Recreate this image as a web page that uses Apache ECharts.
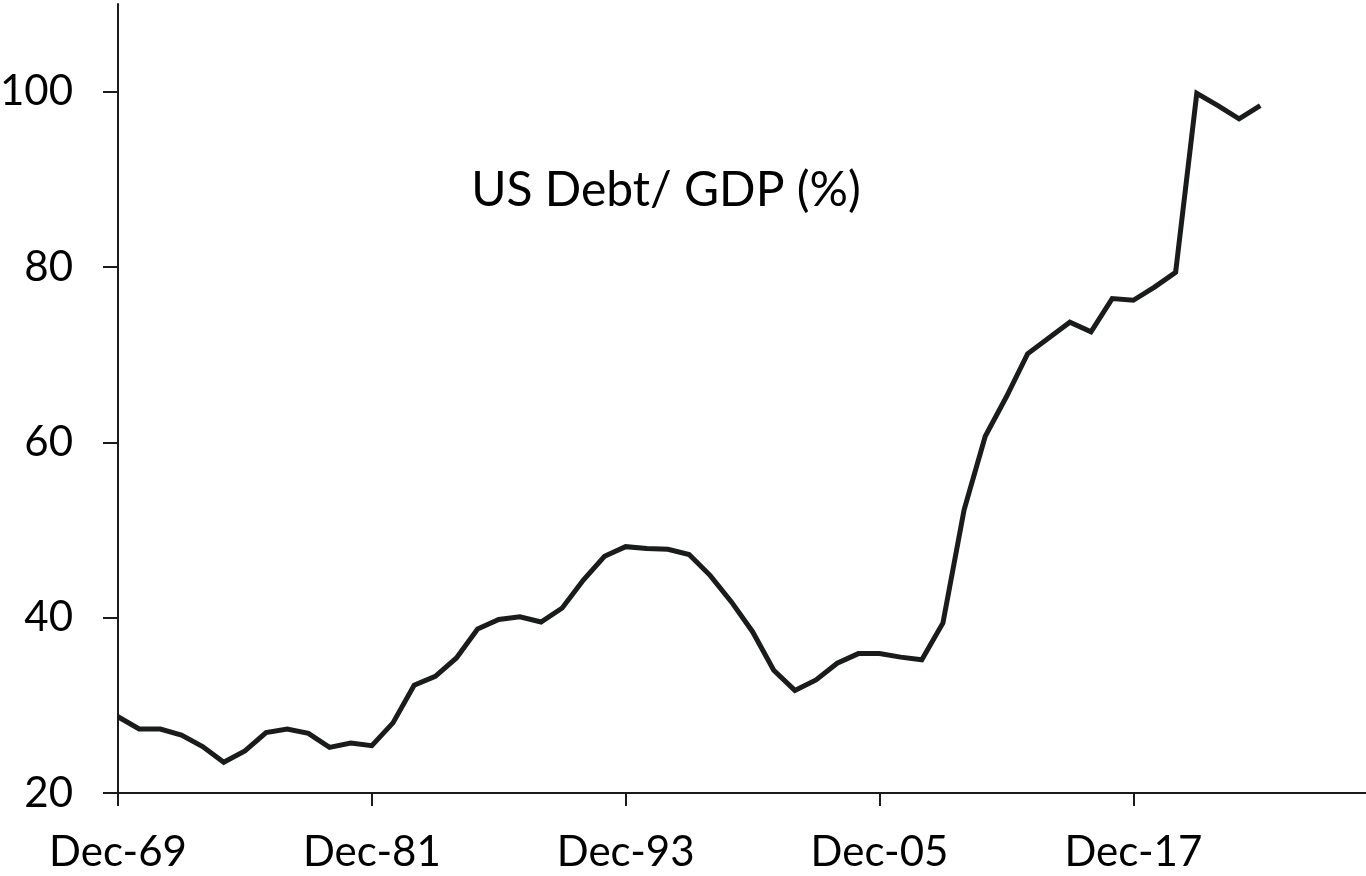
<!DOCTYPE html>
<html lang="en">

<head>
    <meta charset="UTF-8">
    <title>US Debt/ GDP</title>
    <script src="https://cdn.jsdelivr.net/npm/echarts@6/dist/echarts.min.js"></script>
    <style>
        html, body {
            margin: 0;
            padding: 0;
            background: #fff;
        }
    </style>
</head>

<body>
    <div id="myCharts" style="width: 1366px;height:876px;"></div>

    <script type="text/javascript">
        // years on the x axis (Dec of each year), axis runs past the data to 2028
        var firstYear = 1969
        var lastYear = 2028
        var years = []
        for (let y = firstYear; y <= lastYear; y++) {
            years.push('Dec-' + String(y).slice(2))
        }

        // US debt / GDP (%), Dec-69 .. Dec-23
        var debtGdp = [
            28.7, 27.3, 27.3, 26.6, 25.3, 23.5, 24.8, 26.9, 27.3, 26.8,
            25.2, 25.7, 25.4, 28.0, 32.3, 33.3, 35.4, 38.7, 39.8, 40.1,
            39.5, 41.1, 44.3, 47.0, 48.1, 47.9, 47.8, 47.2, 44.8, 41.8,
            38.4, 34.0, 31.7, 32.9, 34.8, 35.9, 35.9, 35.5, 35.2, 39.4,
            52.3, 60.7, 65.2, 70.1, 71.9, 73.7, 72.6, 76.4, 76.2, 77.7,
            79.4, 99.8, 98.4, 96.9, 98.4
        ]

        var yTicks = [20, 40, 60, 80, 100]
        var chartTitle = 'US Debt/ GDP (%)'

        var font = 'Lato'
        var ink = '#1a1c1c'

        var myChart = echarts.init(document.getElementById('myCharts'))

        var option = {
            animation: false,
            backgroundColor: '#fff',
            textStyle: {
                fontFamily: font,
            },
            grid: {
                left: 118,
                right: 0,
                top: 4,
                bottom: 83,
                containLabel: false,
                outerBoundsMode: 'none',
            },
            graphic: [
                {
                    type: 'text',
                    x: 666,
                    y: 167,
                    style: {
                        text: chartTitle,
                        font: '48px Lato',
                        fill: '#000',
                        align: 'center',
                        verticalAlign: 'top',
                    },
                },
            ],
            xAxis: {
                type: 'category',
                data: years,
                boundaryGap: false,
                axisLine: {
                    show: true,
                    lineStyle: {
                        color: ink,
                        width: 2,
                    },
                },
                axisTick: {
                    show: true,
                    interval: 11,
                    length: 13,
                    lineStyle: {
                        color: ink,
                        width: 2,
                    },
                },
                axisLabel: {
                    interval: 11,
                    color: '#000',
                    fontFamily: font,
                    fontSize: 42,
                    margin: 38,
                },
                splitLine: {
                    show: false,
                },
            },
            yAxis: {
                type: 'value',
                min: 20,
                max: 110,
                interval: 20,
                axisLine: {
                    show: true,
                    lineStyle: {
                        color: ink,
                        width: 2,
                    },
                },
                axisTick: {
                    show: true,
                    length: 15,
                    lineStyle: {
                        color: ink,
                        width: 2,
                    },
                },
                axisLabel: {
                    color: '#000',
                    fontFamily: font,
                    fontSize: 42,
                    margin: 45,
                    showMaxLabel: false,
                    formatter: function (v) {
                        return yTicks.indexOf(v) >= 0 ? String(v) : ''
                    },
                },
                splitLine: {
                    show: false,
                },
            },
            series: [
                {
                    name: chartTitle,
                    type: 'line',
                    data: debtGdp,
                    symbol: 'none',
                    smooth: false,
                    lineStyle: {
                        color: ink,
                        width: 5,
                        join: 'miter',
                    },
                },
            ],
        }

        myChart.setOption(option)
    </script>
</body>

</html>
